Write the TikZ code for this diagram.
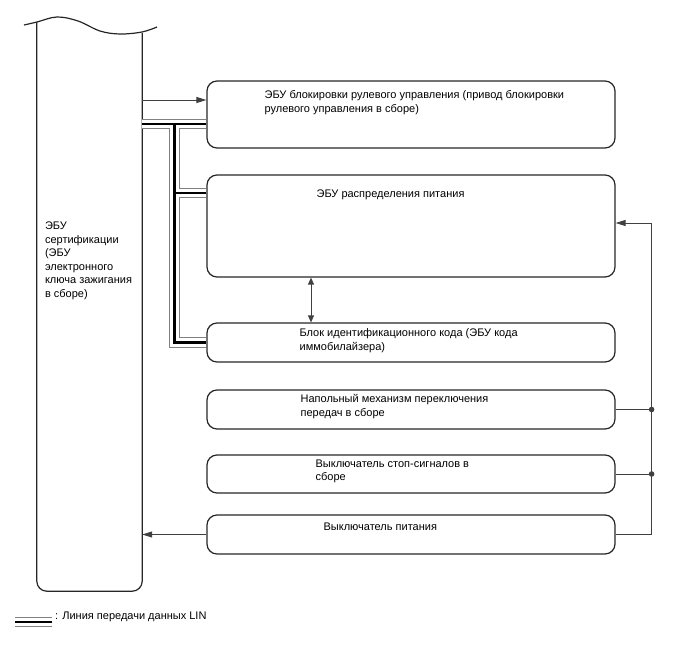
\documentclass[tikz,border=0pt]{standalone}
\usepackage{fontspec}
\setmainfont{Liberation Sans}
\usepackage{xcolor}
\usepackage{tikz}
\usetikzlibrary{arrows.meta}
\definecolor{BoxGray}{rgb}{0.15,0.15,0.15}
\definecolor{WireGray}{rgb}{0.25,0.25,0.25}
\definecolor{LinGray}{rgb}{0.5,0.5,0.5}

\begin{document}
\begin{tikzpicture}[x=1pt, y=-1pt,
		unit/.style={draw=BoxGray, line width=1.2pt, rounded corners=10pt, minimum width=408pt, inner sep=0pt},
		lbl/.style={anchor=north west, align=left, inner sep=0pt, font=\fontsize{11}{13.5}\selectfont},
		wire/.style={draw=WireGray, line width=0.9pt},
		tip/.style={-{Triangle[length=10pt,width=6pt]}},
		tips/.style={{Triangle[length=7pt,width=6pt]}-{Triangle[length=7pt,width=6pt]}},
		lin/.style={preaction={draw=LinGray, line width=1pt, double=white, double distance=8.6pt}, draw=black, line width=2.8pt}]
		\useasboundingbox (0,0) rectangle (688,658);
		
		% certification ECU (cut at the top)
		\node [minimum width=105pt, minimum height=569pt, inner sep=0pt] (cert) at (89.5,306.5) {};
		\draw [BoxGray, line width=1.2pt, rounded corners=10pt] (cert.north west) -- (cert.south west) -- (cert.south east) -- ([yshift=-11pt]cert.north east);
		\draw [BoxGray, line width=1.2pt] plot[smooth, tension=0.6] coordinates {(24,25) (37,22) (57,17) (78,21) (100,31) (120,34) (142,32) (157,27)};
		\node [lbl] (certtxt) at ([shift={(8,200)}]cert.north west) {ЭБУ\\сертификации\\(ЭБУ\\электронного\\ключа зажигания\\в сборе)};
		
		\node [unit, minimum height=67pt] (lock) at (411,114.5) {};
		\node [unit, minimum height=102pt] (power) at (411,226) {};
		\node [unit, minimum height=39pt] (immo) at (411,342.5) {};
		\node [unit, minimum height=39pt] (shift) at (411,409.5) {};
		\node [unit, minimum height=38pt] (stop) at (411,474) {};
		\node [unit, minimum height=39pt] (pwrsw) at (411,534.5) {};
		
		\node [lbl] (locktxt) at ([shift={(58,10)}]lock.north west) {ЭБУ блокировки рулевого управления (привод блокировки\\рулевого управления в сборе)};
		\node [lbl] (powertxt) at ([shift={(110,15)}]power.north west) {ЭБУ распределения питания};
		\node [lbl] (immotxt) at ([shift={(93,6)}]immo.north west) {Блок идентификационного кода (ЭБУ кода\\иммобилайзера)};
		\node [lbl] (shifttxt) at ([shift={(94,5)}]shift.north west) {Напольный механизм переключения\\передач в сборе};
		\node [lbl] (stoptxt) at ([shift={(109,5)}]stop.north west) {Выключатель стоп-сигналов в\\сборе};
		\node [lbl] (pwrswtxt) at ([shift={(117,8)}]pwrsw.north west) {Выключатель питания};
		
		% LIN bus
		\coordinate (j1) at ([yshift=-9.5pt]lock.west);
		\coordinate (j2) at ([yshift=33pt]power.west);
		\coordinate (trunk) at ([xshift=-32pt]lock.west);
		\draw [lin] (cert.east |- j1) -- (j1)
			(trunk |- j1) -- (trunk |- immo.west) -- (immo.west)
			(trunk |- j2) -- (j2);
		
		\coordinate (lockin) at ([yshift=14.5pt]lock.west);
		\draw [wire, tip] (cert.east |- lockin) -- (lockin);
		
		\coordinate (dx) at ([xshift=-100pt]power.south);
		\draw [wire, tips] (dx) -- (dx |- immo.north);
		
		% right side bus
		\coordinate (rbus) at ([shift={(36,-3)}]power.east);
		\draw [wire, tip] (pwrsw.east) -- (rbus |- pwrsw.east) -- (rbus) -- (rbus -| power.east);
		\draw [wire] (shift.east) -- (rbus |- shift.east);
		\draw [wire] (stop.east) -- (rbus |- stop.east);
		\fill [WireGray] (rbus |- shift.east) circle (2.8pt);
		\fill [WireGray] (rbus |- stop.east) circle (2.8pt);
		
		\draw [wire, tip] (pwrsw.west) -- (cert.east |- pwrsw.west);
		
		% legend
		\coordinate (leg) at (15,622);
		\draw [lin] (leg) -- ++(37,0);
		\node [anchor=west, inner sep=0pt, font=\fontsize{11}{13.5}\selectfont] (legtxt) at (55,617) {: Линия передачи данных LIN};
	\end{tikzpicture}
\end{document}
